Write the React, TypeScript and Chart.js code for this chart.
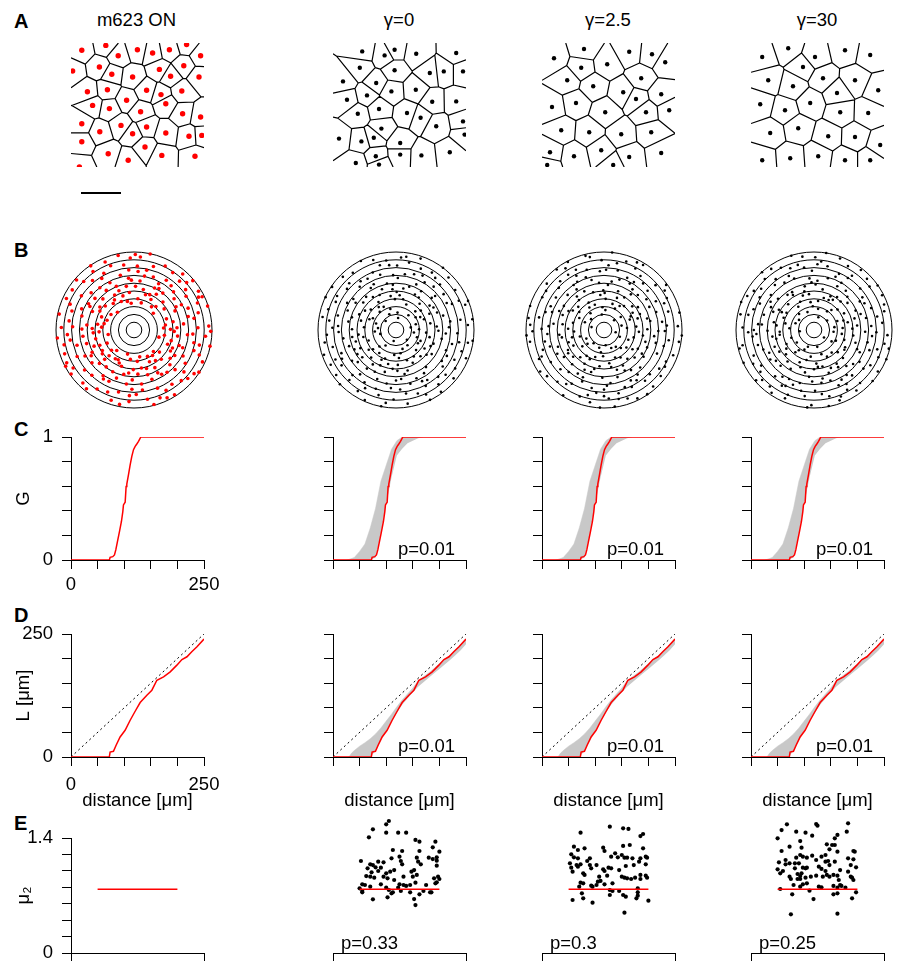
import React, { useEffect, useRef } from 'react';
import { Chart, registerables } from 'chart.js';

Chart.register(...registerables);

const FONT = "'Liberation Sans', Arial, Helvetica, sans-serif";
const FS = 18.5;
Chart.defaults.font.family = FONT;
Chart.defaults.font.size = FS;
Chart.defaults.color = '#000';

const RED = '#ff0000';
const GRAY = '#c8c8c8';

// ---------------- DATA ----------------
const COLUMN_TITLES = ['m623 ON', 'γ=0', 'γ=2.5', 'γ=30'];
const PANEL_LETTERS = ['A', 'B', 'C', 'D', 'E'];

// A: cell positions in µm (x right, y down), field 332.5 x 310 µm
const FIELD_W = 332.5;
const FIELD_H = 310;
const A_VIEW_H = 392.5; // field plus strip holding the scale bar
const SCALE_BAR_X = 25;
const SCALE_BAR_Y = 375;
const SCALE_BAR_UM = 100;

const CELLS_M623 = [[27,18],[87,6],[118,32],[166,17],[204,25],[246,17],[289,4],[324,32],[4,70],[71,60],[102,78],[154,85],[221,66],[249,83],[282,57],[320,85],[41,122],[91,117],[139,143],[189,118],[225,129],[277,120],[54,156],[96,164],[174,172],[237,152],[279,177],[324,185],[27,202],[72,222],[125,206],[154,227],[189,210],[237,225],[295,233],[327,231],[27,247],[93,277],[143,293],[185,260],[227,281],[310,283],[21,310]];
const CELLS_G0 = [[73,21],[129,31],[154,17],[208,27],[308,25],[67,62],[154,68],[242,75],[277,71],[325,71],[25,96],[108,100],[146,121],[207,117],[35,142],[85,131],[115,165],[185,175],[248,147],[308,146],[62,177],[219,187],[258,208],[325,196],[121,214],[15,239],[71,246],[102,237],[168,250],[329,229],[107,283],[168,279],[221,281],[292,273],[57,300],[115,304]];
const CELLS_G25 = [[30,38],[105,15],[163,53],[275,28],[308,48],[63,93],[128,108],[203,123],[248,88],[298,128],[25,160],[85,150],[158,173],[260,173],[318,168],[48,218],[118,223],[198,228],[273,223],[20,273],[80,283],[148,268],[218,285],[298,275],[13,305],[178,305],[218,22],[98,62],[235,140]];
const CELLS_G30 = [[28,35],[93,13],[160,35],[235,18],[298,30],[43,93],[105,108],[180,88],[260,93],[318,118],[23,153],[85,168],[148,150],[223,173],[293,175],[48,225],[118,213],[193,233],[260,235],[323,255],[28,293],[98,288],[168,283],[235,293],[298,293],[130,60],[215,125]];

// B: ring radii (µm) and neighbour points as [r (µm), angle (deg)] pairs
const RING_RADII = [25, 50, 75, 100, 125, 150, 175, 200, 225, 250];
const RING_PTS_M623 = [95,4,128,12,160,7,187,22,213,15,240,3,232,27,172,28,110,19,145,25,205,2,248,18,82,41,118,35,150,52,176,44,199,33,222,56,246,40,135,58,190,57,238,49,103,47,210,38,90,75,124,66,158,83,181,70,205,87,228,64,249,78,140,88,112,61,196,78,235,85,168,62,86,96,115,108,142,100,170,117,193,95,219,110,244,102,128,119,160,93,206,118,231,93,100,114,78,133,108,128,132,146,155,125,182,139,207,130,236,147,248,124,120,140,168,150,195,122,224,136,92,160,118,171,146,156,173,165,197,177,221,158,245,168,134,178,160,152,210,172,233,178,104,175,84,190,112,183,138,202,165,187,189,195,214,184,240,206,126,193,152,208,201,205,229,192,247,186,97,222,121,213,148,233,171,218,198,227,223,238,246,215,110,237,160,211,185,238,236,226,133,225,80,255,116,246,139,263,164,250,190,268,216,247,243,259,127,269,175,262,205,256,230,266,150,243,88,282,113,296,142,275,168,290,194,278,219,298,247,285,130,288,157,299,207,272,233,291,101,276,93,312,120,305,147,322,172,308,196,327,222,313,245,302,135,330,160,316,209,320,238,324,108,319,83,344,117,337,141,352,166,340,189,356,215,347,242,335,129,358,178,332,203,341,230,355,249,348,
  102,9,138,3,179,14,221,23,154,29,196,11,243,26,117,1,93,53,129,44,163,38,185,50,214,47,241,31,155,59,227,42,101,83,133,77,150,64,188,86,213,73,242,89,176,79,119,72,94,103,121,97,151,112,181,104,211,99,237,113,167,96,135,111,89,146,115,123,141,135,174,129,201,147,229,125,161,141,244,139,98,168,125,151,152,174,181,158,208,163,239,155,167,179,112,158,96,206,131,184,158,196,178,208,207,189,235,199,120,204,248,208,86,230,127,217,154,224,177,236,204,219,230,212,115,226,242,231,95,263,123,251,146,257,183,244,211,266,237,252,160,268,108,242,95,297,124,281,150,287,175,278,201,292,226,281,242,296,138,299,101,306,128,313,154,328,183,316,212,305,232,318,167,302,248,327,99,350,124,344,153,341,172,355,196,348,224,339,246,359,136,335];
const RING_PTS_G0 = [48,10,96,21,131,5,158,17,184,28,209,9,236,20,119,26,170,3,222,25,247,8,74,2,62,50,101,38,127,55,154,42,178,59,203,46,229,34,250,53,140,31,191,37,217,58,86,44,39,80,88,68,112,84,145,73,167,88,194,64,220,79,242,71,129,62,181,81,207,89,233,86,70,105,99,92,124,115,152,101,176,93,199,112,225,98,248,117,138,109,188,119,214,104,55,113,44,139,92,127,117,148,143,132,169,144,193,126,218,150,241,135,106,122,157,121,205,140,230,127,67,162,103,175,128,157,155,170,179,151,204,178,227,163,249,155,141,179,192,166,216,172,83,153,52,194,94,201,121,187,147,205,171,189,196,208,222,184,244,199,134,196,184,182,210,195,237,208,75,225,108,216,133,236,160,220,183,231,208,213,231,238,250,224,146,212,196,239,219,227,91,234,36,258,98,249,125,265,150,243,174,260,199,251,223,268,246,246,112,257,162,270,211,242,236,262,64,289,90,276,118,297,144,281,168,293,191,274,215,289,239,279,131,272,178,285,203,298,249,296,47,318,102,304,126,321,153,309,177,326,202,312,226,327,245,306,115,313,189,302,214,318,82,329,71,341,97,355,122,335,149,349,173,338,197,357,221,342,248,352,136,359,185,346,210,333,234,350,
  66,16,112,11,143,23,176,9,198,25,231,4,249,22,88,28,75,33,113,48,148,57,166,41,209,53,238,45,184,49,133,36,56,85,101,77,135,80,160,66,188,72,212,68,237,82,122,89,84,118,110,99,131,95,163,116,184,106,209,96,236,108,145,94,78,132,104,141,129,125,156,146,181,130,212,135,247,146,137,140,58,174,92,158,116,165,167,158,186,176,213,155,239,170,147,164,68,184,107,192,142,189,159,199,190,203,216,206,232,190,128,207,60,236,96,220,119,228,155,233,172,215,201,226,240,217,139,219,80,266,106,244,139,255,168,249,187,265,216,255,249,259,124,246,76,281,103,290,135,286,158,276,184,297,206,279,228,295,112,273,61,307,91,315,138,326,165,303,190,322,221,308,241,320,109,327,58,352,86,336,110,348,160,356,183,333,206,349,242,338,128,340];
const RING_PTS_G25 = [58,14,104,6,126,24,151,11,177,19,202,4,226,27,248,13,139,1,190,29,214,16,89,22,45,44,92,57,118,40,143,53,168,36,195,50,219,41,243,59,107,31,181,58,232,33,156,46,77,63,100,87,132,70,157,81,183,66,208,86,231,72,250,84,119,89,170,61,196,77,221,63,50,98,86,110,113,96,139,117,165,104,189,94,213,115,238,101,127,91,177,119,201,106,247,118,69,129,98,144,125,130,150,149,174,124,198,137,224,146,246,128,111,138,162,136,211,123,236,141,41,167,88,154,115,178,141,160,163,173,187,156,212,169,237,176,129,152,176,161,200,179,249,162,63,206,96,183,120,199,144,186,168,207,193,191,217,203,240,189,132,209,181,197,229,181,105,193,54,232,87,217,116,229,137,213,163,239,188,222,211,235,235,219,150,227,199,211,247,238,125,240,72,262,104,244,129,256,153,268,179,247,203,263,227,250,249,267,142,244,191,270,215,256,91,252,49,276,95,292,121,281,146,297,171,277,195,290,220,274,244,296,134,288,183,298,208,283,232,289,66,305,91,322,119,309,143,328,167,314,192,303,216,325,240,311,155,304,204,316,228,329,110,326,38,349,84,338,112,357,138,344,162,353,186,336,210,351,236,340,124,331,174,359,198,345,250,356,
  74,5,114,19,163,27,188,8,211,24,237,3,143,15,96,27,68,38,100,50,131,34,159,55,188,42,209,56,246,36,123,58,64,86,111,68,145,85,169,73,193,88,218,79,241,64,88,72,73,94,101,119,126,106,152,96,179,109,224,92,245,104,195,117,54,140,86,123,118,148,138,129,186,146,210,132,233,122,157,124,66,158,102,167,134,172,156,157,178,176,224,152,245,171,196,163,80,195,110,207,137,190,157,200,182,184,206,198,228,204,249,184,69,220,100,236,131,221,155,214,176,230,223,228,244,213,201,239,59,255,84,268,117,263,141,253,166,246,190,258,236,259,212,270,62,292,108,279,129,298,157,286,179,273,203,296,226,282,248,278,79,313,103,301,132,318,153,326,179,307,209,309,234,321,248,304,55,337,98,346,126,352,149,338,171,346,195,359,223,333,243,351];
const RING_PTS_G30 = [66,8,99,18,123,2,147,25,171,13,196,21,220,6,245,27,135,16,184,4,233,15,110,29,52,36,85,49,114,58,138,39,162,51,187,34,212,55,236,44,125,47,175,60,199,42,249,35,43,71,94,82,120,64,146,88,172,75,197,66,221,84,244,70,107,73,159,62,209,78,233,89,76,93,101,116,128,104,153,93,177,111,203,99,226,118,249,107,140,120,190,92,215,104,116,98,58,146,90,124,117,135,141,127,166,147,191,131,215,142,239,125,130,150,179,122,203,149,227,134,79,176,105,158,131,169,156,152,180,174,205,161,229,178,250,159,118,151,168,163,193,180,241,168,46,185,99,207,124,193,149,181,174,201,198,186,223,209,246,194,137,203,186,195,211,182,111,188,68,216,93,230,119,221,145,239,169,214,194,230,218,218,243,236,157,227,206,240,231,224,131,212,57,250,86,263,113,246,139,258,165,268,188,249,214,262,238,247,126,270,176,255,201,243,249,265,81,287,108,274,133,294,158,280,182,299,207,277,230,292,248,281,120,283,170,288,195,271,219,299,40,323,92,308,116,327,142,303,166,319,190,310,213,328,237,305,129,316,178,325,202,301,249,319,63,355,102,342,127,352,151,336,176,347,200,358,224,337,247,346,114,331,164,358,189,340,236,356,
  80,21,111,13,139,6,158,19,183,28,207,12,239,20,92,4,73,55,100,41,129,55,151,45,173,32,199,57,226,38,244,52,69,79,107,64,133,78,158,86,184,68,211,87,232,62,250,81,61,110,90,97,116,108,143,102,166,95,191,115,238,99,212,111,70,133,104,148,131,121,153,139,178,141,204,127,230,147,249,132,63,160,94,167,121,173,143,156,168,174,193,154,216,167,240,153,77,199,110,183,135,189,161,207,185,184,210,203,234,192,249,205,81,233,107,214,132,230,157,219,181,236,204,214,230,232,246,221,70,244,99,256,127,250,151,264,176,243,199,258,224,248,241,268,55,281,95,296,119,276,145,289,171,278,194,294,218,283,240,290,67,327,104,317,130,304,155,312,178,306,201,322,225,311,244,327,78,334,90,352,139,343,163,334,187,354,212,343,230,349,250,338];

// C: G function (distance µm -> G)
const G_DIST = [0, 72.2, 73.5, 78.5, 81.7, 84.2, 87.3, 91.1, 94.8, 97.4, 98.6, 101.8, 103.6, 104.9, 108, 111.2, 114.3, 117.5, 120.6, 123.7, 126.9, 131.3, 250];
const G_M623 = [0, 0, 0.022, 0.027, 0.041, 0.082, 0.149, 0.231, 0.313, 0.394, 0.448, 0.47, 0.598, 0.617, 0.693, 0.774, 0.842, 0.897, 0.924, 0.943, 0.965, 1, 1];
const G_ENV_DIST = [0, 25, 30, 40, 50, 60, 70, 80, 90, 100, 110, 120, 130, 140, 150, 160, 170, 180, 250];
const G_ENV_HIGH = [0, 0, 0.005, 0.02, 0.07, 0.13, 0.26, 0.42, 0.64, 0.77, 0.9, 0.97, 1, 1, 1, 1, 1, 1, 1];
const G_ENV_LOW = [0, 0, 0, 0, 0, 0, 0, 0.02, 0.22, 0.455, 0.67, 0.85, 0.905, 0.95, 0.97, 0.99, 1, 1, 1];

// D: L function (distance µm -> L µm)
const L_DIST = [0, 72, 73.5, 79.8, 84.8, 92.3, 101.7, 111.2, 120.6, 130, 142.6, 152, 161.4, 174, 186.5, 199, 208.5, 218, 227, 236.8, 250];
const L_M623 = [0, 0, 10, 11.5, 23.8, 40.7, 54.3, 74.7, 93, 110.7, 125.6, 135.8, 156, 163, 173, 186.7, 198, 203.7, 214, 224, 239.7];
const L_ENV_DIST = [0, 30, 35, 40, 50, 60, 70, 80, 90, 100, 110, 120, 130, 140, 150, 160, 170, 180, 190, 200, 210, 220, 230, 240, 250];
const L_ENV_HIGH = [0, 0, 8, 13, 22, 29, 37, 47, 59, 73, 87, 102, 116, 128, 140, 155, 163, 171, 180, 190, 199, 207, 217, 228, 240];
const L_ENV_LOW = [0, 0, 0, 0, 0, 0, 0, 12, 32, 54, 72, 90, 106, 119, 131, 143, 152, 161, 170, 179, 188, 197, 207, 217, 229];
const DIAG = [0, 250];

const P_G = ['p=0.01', 'p=0.01', 'p=0.01'];
const P_L = ['p=0.01', 'p=0.01', 'p=0.01'];
const P_MU = ['p=0.33', 'p=0.3', 'p=0.25'];

// E: µ2 (data value and simulated values, x = jitter position 0..1)
const MU2_AXIS_MAX = 1.4;
const MU2_VIEW_MAX = 1.7; // simulated values run above the drawn axis
const MU2_M623 = 0.775;
const MU2_LINE_X = [0.2, 0.8];
const MU2_G0 = [[0.42,1.607],[0.40,1.566],[0.30,1.506],[0.40,1.465],[0.49,1.465],[0.55,1.465],[0.27,1.408],[0.62,1.376],[0.65,1.355],[0.77,1.355],[0.75,1.286],[0.45,1.254],[0.52,1.242],[0.65,1.242],[0.80,1.234],[0.50,1.173],[0.44,1.152],[0.63,1.161],[0.72,1.161],[0.78,1.165],[0.21,1.120],[0.51,1.120],[0.64,1.112],[0.75,1.144],[0.28,1.079],[0.30,1.071],[0.34,1.112],[0.38,1.104],[0.36,1.039],[0.32,1.043],[0.26,1.031],[0.66,1.079],[0.78,1.124],[0.78,1.063],[0.52,1.079],[0.46,1.010],[0.43,0.990],[0.40,0.970],[0.34,0.998],[0.29,0.982],[0.28,0.929],[0.25,0.937],[0.31,0.917],[0.61,1.010],[0.63,0.950],[0.60,0.929],[0.59,0.990],[0.53,0.929],[0.79,0.929],[0.76,0.909],[0.80,0.901],[0.78,0.860],[0.46,0.889],[0.38,0.929],[0.41,0.909],[0.24,0.828],[0.22,0.836],[0.28,0.808],[0.36,0.836],[0.40,0.795],[0.50,0.836],[0.49,0.795],[0.53,0.828],[0.55,0.816],[0.58,0.828],[0.62,0.856],[0.70,0.828],[0.77,0.848],[0.22,0.739],[0.44,0.726],[0.45,0.739],[0.51,0.755],[0.58,0.739],[0.65,0.714],[0.68,0.755],[0.73,0.739],[0.74,0.739],[0.61,0.657],[0.62,0.584],[0.30,0.653],[0.41,0.678],[0.20,0.787],[0.22,0.755],[0.42,0.767]];
const MU2_G25 = [[0.51,1.538],[0.61,1.518],[0.65,1.510],[0.29,1.465],[0.76,1.449],[0.74,1.424],[0.24,1.295],[0.32,1.274],[0.27,1.254],[0.46,1.282],[0.47,1.242],[0.61,1.303],[0.66,1.315],[0.76,1.274],[0.22,1.201],[0.24,1.165],[0.55,1.213],[0.52,1.173],[0.57,1.165],[0.60,1.193],[0.62,1.161],[0.64,1.161],[0.78,1.173],[0.79,1.161],[0.36,1.152],[0.34,1.120],[0.74,1.152],[0.73,1.112],[0.27,1.152],[0.26,1.071],[0.21,1.092],[0.22,1.039],[0.29,1.079],[0.27,1.051],[0.36,1.071],[0.37,1.031],[0.41,1.071],[0.68,1.152],[0.69,1.071],[0.78,1.079],[0.63,1.059],[0.50,1.039],[0.52,1.031],[0.58,1.010],[0.46,1.019],[0.47,0.998],[0.23,0.990],[0.31,0.970],[0.32,0.950],[0.43,0.929],[0.49,0.941],[0.60,0.929],[0.62,0.917],[0.64,0.909],[0.67,0.901],[0.70,0.917],[0.74,0.901],[0.78,0.941],[0.79,0.917],[0.74,0.950],[0.29,0.856],[0.28,0.808],[0.31,0.848],[0.37,0.820],[0.38,0.808],[0.41,0.828],[0.42,0.868],[0.44,0.877],[0.47,0.836],[0.53,0.848],[0.51,0.767],[0.58,0.755],[0.53,0.755],[0.72,0.787],[0.72,0.739],[0.30,0.726],[0.51,0.706],[0.61,0.706],[0.63,0.686],[0.71,0.666],[0.72,0.698],[0.23,0.645],[0.31,0.666],[0.38,0.613],[0.80,0.637],[0.62,0.491]];
const MU2_G30 = [[0.49,1.570],[0.50,1.550],[0.73,1.579],[0.27,1.566],[0.23,1.497],[0.34,1.477],[0.41,1.465],[0.46,1.428],[0.72,1.477],[0.65,1.437],[0.63,1.396],[0.20,1.396],[0.37,1.363],[0.61,1.315],[0.57,1.323],[0.63,1.315],[0.23,1.242],[0.29,1.295],[0.38,1.282],[0.77,1.242],[0.78,1.234],[0.59,1.262],[0.37,1.193],[0.39,1.173],[0.46,1.185],[0.53,1.173],[0.56,1.193],[0.34,1.161],[0.42,1.161],[0.49,1.132],[0.65,1.234],[0.73,1.152],[0.77,1.140],[0.21,1.104],[0.26,1.132],[0.29,1.092],[0.26,1.079],[0.33,1.092],[0.36,1.092],[0.39,1.039],[0.42,1.039],[0.41,1.031],[0.51,1.051],[0.53,1.023],[0.56,1.112],[0.58,1.120],[0.59,1.071],[0.63,1.112],[0.67,1.010],[0.75,1.071],[0.79,1.043],[0.20,1.019],[0.22,0.970],[0.24,0.998],[0.33,1.031],[0.35,0.962],[0.38,0.970],[0.37,0.937],[0.45,0.929],[0.49,0.941],[0.56,0.998],[0.54,0.929],[0.57,0.950],[0.59,0.929],[0.62,0.950],[0.65,0.941],[0.66,0.889],[0.73,0.990],[0.75,0.929],[0.76,0.917],[0.77,0.889],[0.29,0.929],[0.30,0.901],[0.35,0.901],[0.37,0.901],[0.41,0.917],[0.32,0.828],[0.37,0.808],[0.39,0.836],[0.42,0.848],[0.51,0.808],[0.53,0.799],[0.67,0.828],[0.65,0.795],[0.62,0.816],[0.68,0.816],[0.71,0.795],[0.22,0.779],[0.44,0.759],[0.62,0.714],[0.65,0.726],[0.79,0.739],[0.31,0.714],[0.47,0.657],[0.76,0.666],[0.30,0.471],[0.65,0.479]];

// ---------------- LAYOUT ----------------
const COL_X = [71, 333, 542, 751];
const PLOT_W = 133;
const Y_AXIS_W = 71;
const PAD_T = 25;
const PAD_R = 30;
const A_TOP = 43;
const B_CX = [134, 396, 604, 814];
const B_CY = 330;
const B_HALF_PX = 80;
const B_OUTER_PX = 78;
const C_TOP = 437, C_H = 123;
const D_TOP = 634, D_H = 123;
const E_TOP = 838, E_H = 115, E_PAD_T = 30;

// ---------------- PLUGINS ----------------
function clipPoly(poly: number[][], nx: number, ny: number, c: number) {
  const out: number[][] = [];
  for (let k = 0; k < poly.length; k++) {
    const a = poly[k], b = poly[(k + 1) % poly.length];
    const da = nx * a[0] + ny * a[1] - c;
    const db = nx * b[0] + ny * b[1] - c;
    if (da <= 0) out.push(a);
    if ((da < 0 && db > 0) || (da > 0 && db < 0)) {
      const t = da / (da - db);
      out.push([a[0] + t * (b[0] - a[0]), a[1] + t * (b[1] - a[1])]);
    }
  }
  return out;
}

const voronoiPlugin = {
  id: 'voronoi',
  beforeDatasetsDraw(chart: any, _args: any, opts: any) {
    const xs = chart.scales.x, ys = chart.scales.y;
    const L = xs.getPixelForValue(0), R = xs.getPixelForValue(opts.w);
    const T = ys.getPixelForValue(0), B = ys.getPixelForValue(opts.h);
    const pts = (chart.data.datasets[0].data as any[]).map((p) => [xs.getPixelForValue(p.x), ys.getPixelForValue(p.y)]);
    const ctx = chart.ctx;
    const eps = 0.6;
    const onSide = (p: number[], q: number[]) =>
      (Math.abs(p[0] - L) < eps && Math.abs(q[0] - L) < eps) ||
      (Math.abs(p[0] - R) < eps && Math.abs(q[0] - R) < eps) ||
      (Math.abs(p[1] - T) < eps && Math.abs(q[1] - T) < eps) ||
      (Math.abs(p[1] - B) < eps && Math.abs(q[1] - B) < eps);
    ctx.save();
    ctx.beginPath();
    ctx.rect(L, T, R - L, B - T);
    ctx.clip();
    ctx.strokeStyle = '#000';
    ctx.lineWidth = 1.2;
    ctx.lineJoin = 'round';
    ctx.beginPath();
    pts.forEach((p, i) => {
      let poly: number[][] = [[L, T], [R, T], [R, B], [L, B]];
      pts.forEach((q, j) => {
        if (i === j || poly.length === 0) return;
        const nx = q[0] - p[0], ny = q[1] - p[1];
        const c = (nx * (p[0] + q[0]) + ny * (p[1] + q[1])) / 2;
        poly = clipPoly(poly, nx, ny, c);
      });
      for (let k = 0; k < poly.length; k++) {
        const a = poly[k], b = poly[(k + 1) % poly.length];
        if (onSide(a, b)) continue;
        ctx.moveTo(a[0], a[1]);
        ctx.lineTo(b[0], b[1]);
      }
    });
    ctx.stroke();
    ctx.restore();
  },
};

const ringsPlugin = {
  id: 'rings',
  beforeDatasetsDraw(chart: any, _args: any, opts: any) {
    const { ctx, scales } = chart;
    const cx = scales.x.getPixelForValue(0), cy = scales.y.getPixelForValue(0);
    ctx.save();
    ctx.strokeStyle = '#000';
    ctx.lineWidth = 1;
    for (const r of opts.radii) {
      const rp = scales.x.getPixelForValue(r) - cx;
      ctx.beginPath();
      ctx.arc(cx, cy, rp, 0, Math.PI * 2);
      ctx.stroke();
    }
    ctx.restore();
  },
};

const notePlugin = {
  id: 'panelNote',
  afterDatasetsDraw(chart: any, _args: any, opts: any) {
    if (!opts || !opts.text) return;
    const { ctx, chartArea } = chart;
    ctx.save();
    ctx.font = `${FS}px ${FONT}`;
    ctx.fillStyle = '#000';
    ctx.textBaseline = 'alphabetic';
    ctx.textAlign = 'left';
    ctx.fillText(opts.text, chartArea.left + opts.dx, chartArea.bottom - opts.dy);
    ctx.restore();
  },
};

// ---------------- CONFIG BUILDERS ----------------
const baseOptions = () => ({
  responsive: false,
  maintainAspectRatio: false,
  animation: false as const,
  events: [] as any[],
  layout: { autoPadding: false, padding: 0 as any },
  plugins: { legend: { display: false }, tooltip: { enabled: false }, title: { display: false } } as any,
});

const near = (a: number, b: number) => Math.abs(a - b) < 1e-6;

function lineDs(xs: number[], ys: number[], extra: any) {
  return {
    data: xs.map((x, i) => ({ x, y: ys[i] })),
    showLine: true,
    pointRadius: 0,
    tension: 0,
    ...extra,
  };
}

function xAxis(max: number, step: number, showLabels: boolean, height: number, labelPad: number, tickLen: number, title?: string) {
  return {
    type: 'linear',
    min: 0,
    max,
    ticks: {
      stepSize: step,
      autoSkip: false,
      maxRotation: 0,
      padding: labelPad,
      color: '#000',
      font: { size: FS },
      callback: (v: number) => (showLabels && (near(v, 0) || near(v, max)) ? String(v) : ''),
    },
    grid: { drawOnChartArea: false, drawTicks: true, tickLength: tickLen, color: '#000', lineWidth: 1 },
    border: { display: true, color: '#000', width: 1 },
    title: title
      ? { display: true, text: title, color: '#000', font: { size: FS }, padding: { top: 0, bottom: 5 } }
      : { display: false },
    afterFit: (s: any) => {
      s.height = height;
      s.paddingLeft = 0;
      s.paddingRight = 0;
    },
  };
}

function yAxis(max: number, step: number, showLabels: boolean, labelFmt: (v: number) => string, title?: string) {
  return {
    type: 'linear',
    min: 0,
    max,
    ticks: {
      stepSize: step,
      autoSkip: false,
      padding: 9,
      color: '#000',
      font: { size: FS },
      callback: (v: number) => (showLabels && (near(v, 0) || near(v, max)) ? labelFmt(v) : ''),
    },
    grid: { drawOnChartArea: false, drawTicks: true, tickLength: 9, color: '#000', lineWidth: 1 },
    border: { display: true, color: '#000', width: 1 },
    title: title
      ? { display: true, text: title, color: '#000', font: { size: FS }, padding: { top: 13, bottom: 0 } }
      : { display: false },
    afterFit: (s: any) => {
      s.width = Y_AXIS_W;
      s.paddingTop = 0;
      s.paddingBottom = 0;
    },
  };
}

function hiddenYAxis(max: number) {
  return {
    type: 'linear',
    min: 0,
    max,
    ticks: { display: false },
    grid: { display: false },
    border: { display: false },
    afterFit: (s: any) => {
      s.width = Y_AXIS_W;
      s.paddingTop = 0;
      s.paddingBottom = 0;
    },
  };
}

function voronoiConfig(cells: number[][], color: string, radius: number, withBar: boolean) {
  const opts = baseOptions();
  const datasets: any[] = [
    {
      data: cells.map(([x, y]) => ({ x, y })),
      showLine: false,
      pointRadius: radius,
      pointBackgroundColor: color,
      pointBorderWidth: 0,
      clip: { left: 0, top: 0, right: 0, bottom: -((A_VIEW_H - FIELD_H) / 2.5) },
    },
  ];
  if (withBar) {
    datasets.push(
      lineDs([SCALE_BAR_X, SCALE_BAR_X + SCALE_BAR_UM], [SCALE_BAR_Y, SCALE_BAR_Y], {
        borderColor: '#000',
        borderWidth: 2,
        clip: false,
      })
    );
  }
  return {
    type: 'scatter',
    data: { datasets },
    options: {
      ...opts,
      scales: {
        x: { type: 'linear', display: false, min: 0, max: FIELD_W },
        y: { type: 'linear', display: false, min: 0, max: A_VIEW_H, reverse: true },
      },
      plugins: { ...opts.plugins, voronoi: { w: FIELD_W, h: FIELD_H } },
    },
    plugins: [voronoiPlugin],
  };
}

function ringConfig(pairs: number[], color: string, radius: number) {
  const opts = baseOptions();
  const data: { x: number; y: number }[] = [];
  for (let i = 0; i < pairs.length; i += 2) {
    const r = pairs[i];
    const t = (pairs[i + 1] * Math.PI) / 180;
    data.push({ x: r * Math.cos(t), y: r * Math.sin(t) });
  }
  const half = (RING_RADII[RING_RADII.length - 1] * B_HALF_PX) / B_OUTER_PX;
  return {
    type: 'scatter',
    data: {
      datasets: [{ data, showLine: false, pointRadius: radius, pointBackgroundColor: color, pointBorderWidth: 0 }],
    },
    options: {
      ...opts,
      scales: {
        x: { type: 'linear', display: false, min: -half, max: half },
        y: { type: 'linear', display: false, min: -half, max: half },
      },
      plugins: { ...opts.plugins, rings: { radii: RING_RADII } },
    },
    plugins: [ringsPlugin],
  };
}

function curveConfig(kind: 'G' | 'L', col: number) {
  const isG = kind === 'G';
  const opts = baseOptions();
  const datasets: any[] = [];
  if (col > 0) {
    datasets.push(
      lineDs(isG ? G_ENV_DIST : L_ENV_DIST, isG ? G_ENV_LOW : L_ENV_LOW, {
        borderColor: 'rgba(0,0,0,0)',
        borderWidth: 0,
        fill: false,
        order: 4,
      })
    );
    datasets.push(
      lineDs(isG ? G_ENV_DIST : L_ENV_DIST, isG ? G_ENV_HIGH : L_ENV_HIGH, {
        borderColor: GRAY,
        borderWidth: 0.5,
        backgroundColor: GRAY,
        fill: '-1',
        order: 3,
      })
    );
  }
  if (!isG) {
    datasets.push(lineDs(DIAG, DIAG, { borderColor: '#000', borderWidth: 1, borderDash: [2, 3], order: 2 }));
  }
  datasets.push(lineDs(isG ? G_DIST : L_DIST, isG ? G_M623 : L_M623, { borderColor: RED, borderWidth: 1.5, order: 0 }));
  const yMax = isG ? 1 : 250;
  const yStep = isG ? 0.2 : 50;
  return {
    type: 'scatter',
    data: { datasets },
    options: {
      ...opts,
      layout: { autoPadding: false, padding: { left: 0, right: PAD_R, top: PAD_T, bottom: 0 } },
      scales: {
        x: isG
          ? xAxis(250, 50, col === 0, 45, 5, 9)
          : xAxis(250, 50, col === 0, 60, 8, 9, 'distance [μm]'),
        y: yAxis(yMax, yStep, col === 0, (v) => String(v), col === 0 ? (isG ? 'G' : 'L [μm]') : undefined),
      },
      plugins: {
        ...opts.plugins,
        panelNote: col > 0 ? { text: isG ? P_G[col - 1] : P_L[col - 1], dx: 65, dy: 5 } : {},
      },
    },
    plugins: [notePlugin],
  };
}

function muConfig(col: number) {
  const opts = baseOptions();
  const sims = [MU2_G0, MU2_G25, MU2_G30];
  const datasets: any[] = [];
  if (col > 0) {
    datasets.push({
      data: sims[col - 1].map(([x, y]) => ({ x, y })),
      showLine: false,
      pointRadius: 2.1,
      pointBackgroundColor: '#000',
      pointBorderWidth: 0,
      order: 2,
    });
  }
  datasets.push(lineDs(MU2_LINE_X, [MU2_M623, MU2_M623], { borderColor: RED, borderWidth: 1.5, order: 0 }));
  const yMax = col === 0 ? MU2_AXIS_MAX : MU2_VIEW_MAX;
  const pxPerUnit = E_H / MU2_AXIS_MAX;
  const padTop = E_PAD_T - (yMax - MU2_AXIS_MAX) * pxPerUnit;
  return {
    type: 'scatter',
    data: { datasets },
    options: {
      ...opts,
      layout: { autoPadding: false, padding: { left: 0, right: PAD_R, top: padTop, bottom: 0 } },
      scales: {
        x: xAxis(1, 1, false, 12, 0, 8),
        y: col === 0
          ? yAxis(MU2_AXIS_MAX, 0.2, true, (v) => (near(v, 0) ? '0' : '1.4'), 'μ₂')
          : hiddenYAxis(yMax),
      },
      plugins: {
        ...opts.plugins,
        panelNote: col > 0 ? { text: P_MU[col - 1], dx: 8, dy: 4 } : {},
      },
    },
    plugins: [notePlugin],
  };
}

// ---------------- COMPONENTS ----------------
type Box = { left: number; top: number; width: number; height: number };

function ChartCanvas({ box, make }: { box: Box; make: () => any }) {
  const ref = useRef<HTMLCanvasElement | null>(null);
  useEffect(() => {
    if (!ref.current) return;
    const chart = new Chart(ref.current, make());
    return () => chart.destroy();
  }, []);
  return (
    <canvas
      ref={ref}
      width={box.width}
      height={box.height}
      style={{ position: 'absolute', left: box.left, top: box.top, width: box.width, height: box.height }}
    />
  );
}

function axisBox(col: number, plotTop: number, plotH: number, xAxisH: number, padT: number = PAD_T): Box {
  return {
    left: COL_X[col] - Y_AXIS_W,
    top: plotTop - padT,
    width: Y_AXIS_W + PLOT_W + PAD_R,
    height: padT + plotH + xAxisH,
  };
}

const LETTER_Y = [11, 240, 419, 605, 813];

export default function App() {
  const cellSets = [CELLS_M623, CELLS_G0, CELLS_G25, CELLS_G30];
  const ringSets = [RING_PTS_M623, RING_PTS_G0, RING_PTS_G25, RING_PTS_G30];
  const titleCenters = [136.5, 399, 608, 817];
  return (
    <div
      style={{
        position: 'absolute',
        left: 0,
        top: 0,
        width: 902,
        height: 965,
        background: '#fff',
        fontFamily: FONT,
        overflow: 'hidden',
      }}
    >
      {PANEL_LETTERS.map((l, i) => (
        <div
          key={l}
          style={{
            position: 'absolute',
            left: 14,
            top: LETTER_Y[i],
            fontSize: 20,
            lineHeight: '20px',
            fontWeight: 'bold',
          }}
        >
          {l}
        </div>
      ))}
      {COLUMN_TITLES.map((t, i) => (
        <div
          key={t}
          style={{
            position: 'absolute',
            left: titleCenters[i] - 60,
            width: 120,
            top: 11,
            textAlign: 'center',
            fontSize: FS,
            lineHeight: `${FS}px`,
            whiteSpace: 'nowrap',
          }}
        >
          {t}
        </div>
      ))}
      {cellSets.map((cells, i) => (
        <ChartCanvas
          key={'a' + i}
          box={{ left: COL_X[i], top: A_TOP, width: PLOT_W, height: Math.round(A_VIEW_H / 2.5) }}
          make={() => voronoiConfig(cells, i === 0 ? RED : '#000', i === 0 ? 2.7 : 2.2, i === 0)}
        />
      ))}
      {ringSets.map((pts, i) => (
        <ChartCanvas
          key={'b' + i}
          box={{ left: B_CX[i] - B_HALF_PX, top: B_CY - B_HALF_PX, width: 2 * B_HALF_PX, height: 2 * B_HALF_PX }}
          make={() => ringConfig(pts, i === 0 ? RED : '#000', i === 0 ? 1.8 : 1.3)}
        />
      ))}
      {[0, 1, 2, 3].map((i) => (
        <ChartCanvas key={'c' + i} box={axisBox(i, C_TOP, C_H, 45)} make={() => curveConfig('G', i)} />
      ))}
      {[0, 1, 2, 3].map((i) => (
        <ChartCanvas key={'d' + i} box={axisBox(i, D_TOP, D_H, 60)} make={() => curveConfig('L', i)} />
      ))}
      {[0, 1, 2, 3].map((i) => (
        <ChartCanvas key={'e' + i} box={axisBox(i, E_TOP, E_H, 12, E_PAD_T)} make={() => muConfig(i)} />
      ))}
    </div>
  );
}
